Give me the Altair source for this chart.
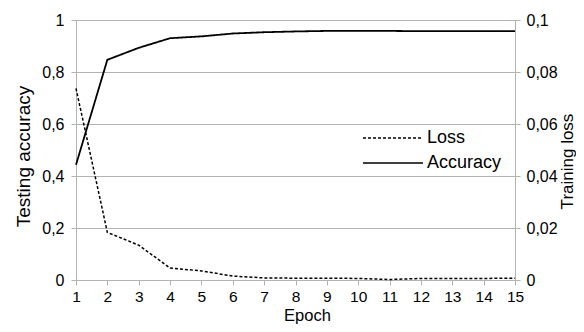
import altair as alt
import pandas as pd

epochs = list(range(1, 16))
accuracy = [0.443, 0.847, 0.893, 0.930, 0.937, 0.948, 0.953, 0.956, 0.958, 0.958, 0.958, 0.957, 0.957, 0.957, 0.957]
loss = [0.0737, 0.0183, 0.0134, 0.0046, 0.0035, 0.0015, 0.0008, 0.0007, 0.0007, 0.0006, 0.0002, 0.0006, 0.0006, 0.0006, 0.0007]
series_names = ["Loss", "Accuracy"]
acc_ticks = [0, 0.2, 0.4, 0.6, 0.8, 1]
loss_ticks = [0, 0.02, 0.04, 0.06, 0.08, 0.1]

df_acc = pd.DataFrame({"epoch": epochs, "value": accuracy, "series": "Accuracy"})
df_loss = pd.DataFrame({"epoch": epochs, "value": loss, "series": "Loss"})

FONT = "Liberation Sans"
GREY = "#b3b3b3"

x_enc = alt.X("epoch:Q", scale=alt.Scale(domain=[1, 15], nice=False),
              axis=alt.Axis(values=epochs, title="Epoch", grid=False, labelFlush=False,
                            labelOverlap=False, domainColor=GREY, tickColor=GREY,
                            tickSize=5, labelFontSize=15.5, titleFontSize=16.5,
                            titleFontWeight="normal", labelColor="black", titleColor="black",
                            labelPadding=4, titleX=231, titleY=40,
                            titleBaseline="alphabetic", titleAlign="center"))

dash = alt.StrokeDash("series:N",
                      scale=alt.Scale(domain=series_names, range=[[3, 2], [1, 0]]),
                      legend=alt.Legend(title=None, orient="none", legendX=308, legendY=109,
                                        symbolType="M-6,0H6", symbolSize=100,
                                        symbolStrokeColor="black", symbolStrokeWidth=1.5,
                                        labelFontSize=18, labelColor="black", labelFont=FONT,
                                        labelOffset=25, rowPadding=7,
                                        fillColor="white", padding=0))

acc_line = alt.Chart(df_acc).mark_line(color="black", strokeWidth=1.8).encode(
    x=x_enc,
    y=alt.Y("value:Q", scale=alt.Scale(domain=[0, 1], nice=False),
            axis=alt.Axis(values=acc_ticks, title="Testing accuracy", orient="left",
                          labelExpr="replace(toString(datum.value), '.', ',')",
                          grid=True, gridColor=GREY, domainColor=GREY, tickColor=GREY,
                          tickSize=5, labelFlush=False, labelFontSize=16, titleFontSize=19,
                          titleFontWeight="normal", labelColor="black", titleColor="black",
                          labelPadding=7, titleAngle=270, titleX=-62, titleY=136,
                          titleBaseline="top", titleAlign="center")),
    strokeDash=dash,
)

loss_line = alt.Chart(df_loss).mark_line(color="black", strokeWidth=1.5).encode(
    x=x_enc,
    y=alt.Y("value:Q", scale=alt.Scale(domain=[0, 0.1], nice=False),
            axis=alt.Axis(values=loss_ticks, title="Training loss", orient="right",
                          labelExpr="replace(toString(datum.value), '.', ',')",
                          grid=False, domainColor=GREY, tickColor=GREY,
                          tickSize=5, labelFlush=False, labelFontSize=16, titleFontSize=17,
                          titleFontWeight="normal", labelColor="black", titleColor="black",
                          labelPadding=6, titleAngle=270, titleX=44, titleY=141,
                          titleBaseline="top", titleAlign="center")),
    strokeDash=dash,
)

chart = alt.layer(loss_line, acc_line).resolve_scale(y="independent").properties(
    width=439, height=260,
    autosize=alt.AutoSizeParams(type="none"),
    padding={"left": 68, "top": 12, "right": 61, "bottom": 44},
).configure_view(stroke=None).configure(font=FONT)

chart.save("out.html", embed_options={"renderer": "svg", "actions": False})
